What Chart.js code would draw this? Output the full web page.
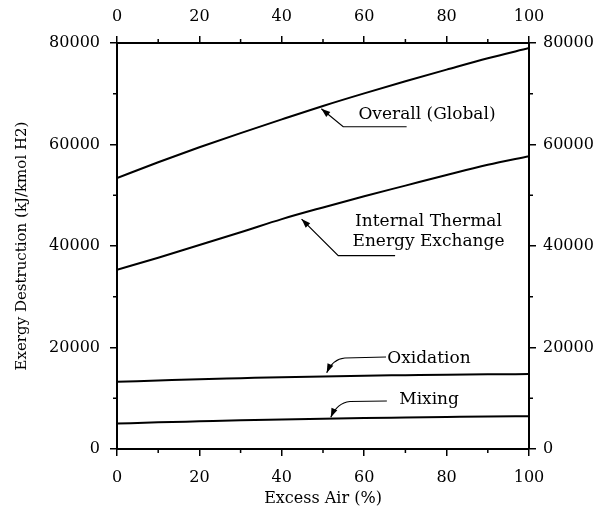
<!DOCTYPE html>
<html><head><meta charset="utf-8">
<script src="https://cdn.jsdelivr.net/npm/chart.js@4/dist/chart.umd.min.js"></script>
<style>html,body{margin:0;padding:0;background:#fff}#wrap{width:597px;height:514px}</style>
</head><body><div id="wrap"><canvas id="c" width="597" height="514"></canvas></div>
<script>
// ---- data ----
const excessAir = [0,10,20,30,40,50,60,70,80,90,100];
const overall = [53400,56500,59450,62250,64950,67600,70080,72450,74750,77000,79000];
const internalThermal = [35300,37700,40200,42700,45300,47600,49800,51900,54000,56000,57700];
const oxidation = [13250,13500,13750,13950,14150,14300,14450,14550,14650,14720,14760];
const mixing = [5020,5250,5450,5650,5800,5950,6100,6200,6300,6400,6470];
const xTicks = [0,20,40,60,80,100];
const xMinorTicks = [10,30,50,70,90];
const yTicks = [0,20000,40000,60000,80000];
const yMinorTicks = [10000,30000,50000,70000];
const seriesNames = ['Overall (Global)','Internal Thermal Energy Exchange','Oxidation','Mixing'];

// ---- annotation layout (data coordinates) ----
const notes = [
  {lines:['Overall (Global)'], tx:58.6, ty:65800, align:'left',
   path:[[49.6,67050],[54.9,63500],[70.3,63500]]},
  {lines:['Internal Thermal','Energy Exchange'], tx:75.6, ty:[44790,40850], align:'center',
   path:[[44.8,45300],[53.7,38090],[67.5,38090]]},
  {lines:['Oxidation'], tx:65.6, ty:17870, align:'left',
   curve:{tip:[50.9,15030],ctrl:[52.4,17730],elbow:[55.3,17930],end:[65.3,18130]}},
  {lines:['Mixing'], tx:68.5, ty:9790, align:'left',
   curve:{tip:[51.9,6250],ctrl:[53.4,9060],elbow:[56.55,9360],end:[65.5,9460]}}
];

const FONT = 'DejaVu Serif';
const toXY = arr => excessAir.map((x,i)=>({x:x, y:arr[i]}));
const mkDs = (label, arr) => ({label, data: toXY(arr), borderColor:'#000', borderWidth:2,
  pointRadius:0, fill:false, tension:0, cubicInterpolationMode:'monotone'});

function arrowHead(ctx, tip, from) {
  const a = Math.atan2(tip[1]-from[1], tip[0]-from[0]);
  const L = 9, W = 3.2;
  ctx.beginPath();
  ctx.moveTo(tip[0], tip[1]);
  ctx.lineTo(tip[0]-L*Math.cos(a)+W*Math.sin(a), tip[1]-L*Math.sin(a)-W*Math.cos(a));
  ctx.lineTo(tip[0]-L*Math.cos(a)-W*Math.sin(a), tip[1]-L*Math.sin(a)+W*Math.cos(a));
  ctx.closePath();
  ctx.fill();
}

const extras = {
  id:'extras',
  afterDraw(chart) {
    const ctx = chart.ctx, sx = chart.scales.x, sy = chart.scales.y;
    const P = p => [sx.getPixelForValue(p[0]), sy.getPixelForValue(p[1])];
    ctx.save();
    ctx.strokeStyle = '#000'; ctx.fillStyle = '#000';
    // minor ticks
    ctx.lineWidth = 1.5;
    const ca = chart.chartArea;
    xMinorTicks.forEach(v => {
      const px = sx.getPixelForValue(v);
      ctx.beginPath(); ctx.moveTo(px, ca.bottom); ctx.lineTo(px, ca.bottom+4); ctx.stroke();
      ctx.beginPath(); ctx.moveTo(px, ca.top); ctx.lineTo(px, ca.top-4); ctx.stroke();
    });
    yMinorTicks.forEach(v => {
      const py = sy.getPixelForValue(v);
      ctx.beginPath(); ctx.moveTo(ca.left, py); ctx.lineTo(ca.left-4, py); ctx.stroke();
      ctx.beginPath(); ctx.moveTo(ca.right, py); ctx.lineTo(ca.right+4, py); ctx.stroke();
    });
    // annotations
    ctx.lineWidth = 1.2;
    ctx.font = '17px "' + FONT + '"';
    ctx.textBaseline = 'middle';
    notes.forEach(n => {
      if (n.path) {
        const pts = n.path.map(P);
        ctx.beginPath(); ctx.moveTo(pts[0][0], pts[0][1]);
        for (let i=1;i<pts.length;i++) ctx.lineTo(pts[i][0], pts[i][1]);
        ctx.stroke();
        arrowHead(ctx, pts[0], pts[1]);
      } else {
        const t = P(n.curve.tip), c = P(n.curve.ctrl), e = P(n.curve.elbow), d = P(n.curve.end);
        ctx.beginPath(); ctx.moveTo(t[0], t[1]);
        ctx.quadraticCurveTo(c[0], c[1], e[0], e[1]);
        ctx.lineTo(d[0], d[1]); ctx.stroke();
        arrowHead(ctx, t, c);
      }
      ctx.textAlign = n.align;
      n.lines.forEach((ln, i) => {
        const ty = Array.isArray(n.ty) ? n.ty[i] : n.ty;
        ctx.fillText(ln, sx.getPixelForValue(n.tx), sy.getPixelForValue(ty));
      });
    });
    ctx.restore();
  }
};

const gridOpt = {display:true, drawOnChartArea:false, drawTicks:true, tickLength:7, color:'#000', lineWidth:1.5};
const borderOpt = {display:true, color:'#000', width:2};
const tickFont = {family: FONT, size:16};
const setTicks = arr => s => { s.ticks = arr.map(v => ({value:v})); };

new Chart(document.getElementById('c'), {
  type:'line',
  data:{datasets:[
    mkDs(seriesNames[0], overall),
    mkDs(seriesNames[1], internalThermal),
    mkDs(seriesNames[2], oxidation),
    mkDs(seriesNames[3], mixing)
  ]},
  options:{
    responsive:false, animation:false, devicePixelRatio:1,
    layout:{padding:0},
    plugins:{legend:{display:false}, tooltip:{enabled:false}},
    scales:{
      x:{type:'linear', position:'bottom', min:0, max:100, afterBuildTicks:setTicks(xTicks),
        grid:gridOpt, border:borderOpt,
        ticks:{color:'#000', font:tickFont, padding:12, maxRotation:0, callback:v=>String(v)},
        title:{display:true, text:'Excess Air (%)', color:'#000', font:{family:FONT, size:16}, padding:{top:0,bottom:6}},
        afterFit:s=>{s.height=65;}},
      x2:{type:'linear', position:'top', min:0, max:100, afterBuildTicks:setTicks(xTicks),
        grid:gridOpt, border:borderOpt,
        ticks:{color:'#000', font:tickFont, padding:10, maxRotation:0, callback:v=>String(v)},
        afterFit:s=>{s.height=43;}},
      y:{type:'linear', position:'left', min:0, max:80000, afterBuildTicks:setTicks(yTicks),
        grid:gridOpt, border:borderOpt,
        ticks:{color:'#000', font:tickFont, padding:10, callback:v=>String(v)},
        title:{display:true, text:'Exergy Destruction (kJ/kmol H2)', color:'#000', font:{family:FONT, size:15}, padding:{top:13,bottom:0}},
        afterFit:s=>{s.width=117;}},
      y2:{type:'linear', position:'right', min:0, max:80000, afterBuildTicks:setTicks(yTicks),
        grid:gridOpt, border:borderOpt,
        ticks:{color:'#000', font:tickFont, padding:7, callback:v=>String(v)},
        afterFit:s=>{s.width=68;}}
    }
  },
  plugins:[extras]
});
</script></body></html>
